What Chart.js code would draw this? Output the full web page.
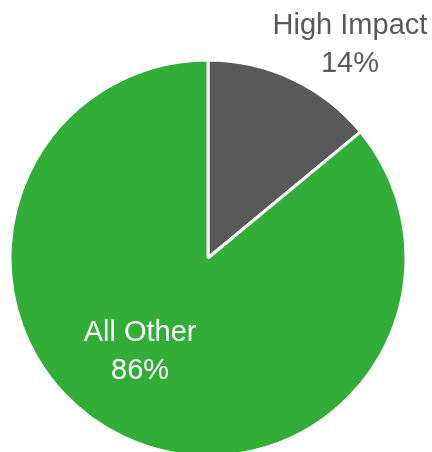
<!DOCTYPE html>
<html>
<head>
<meta charset="utf-8">
<script src="https://cdn.jsdelivr.net/npm/chart.js@4"></script>
<style>
  html, body { margin: 0; padding: 0; background: #fff; }
  #wrap { width: 432px; height: 452px; }
</style>
</head>
<body>
<div id="wrap"><canvas id="pie"></canvas></div>
<script>
const categories = ['High Impact', 'All Other'];
const shares = [14, 86];
const sliceColors = ['#595959', '#32AE38'];
const labelColors = ['#595959', '#ffffff'];
// label block centre, as a fraction of the radius from the pie centre
const labelSpots = [[0.717, -1.076], [-0.343, 0.475]];

const sliceLabels = {
  id: 'sliceLabels',
  afterDatasetsDraw(chart) {
    const ctx = chart.ctx;
    const arcs = chart.getDatasetMeta(0).data;
    ctx.save();
    ctx.font = '29px "Liberation Sans", Arial, sans-serif';
    ctx.textAlign = 'center';
    ctx.textBaseline = 'middle';
    arcs.forEach((arc, i) => {
      const r = arc.outerRadius;
      const x = arc.x + labelSpots[i][0] * r;
      const y = arc.y + labelSpots[i][1] * r;
      ctx.fillStyle = labelColors[i];
      ctx.fillText(categories[i], x, y - 19);
      ctx.fillText(shares[i] + '%', x, y + 19);
    });
    ctx.restore();
  }
};

new Chart(document.getElementById('pie').getContext('2d'), {
  type: 'pie',
  data: {
    labels: categories,
    datasets: [{
      data: shares,
      backgroundColor: sliceColors,
      borderColor: '#ffffff',
      borderWidth: 3
    }]
  },
  options: {
    responsive: true,
    maintainAspectRatio: false,
    animation: false,
    radius: 198,
    layout: { padding: { left: 12, right: 28, top: 64, bottom: 0 } },
    plugins: {
      legend: { display: false },
      tooltip: { enabled: false }
    }
  },
  plugins: [sliceLabels]
});
</script>
</body>
</html>
